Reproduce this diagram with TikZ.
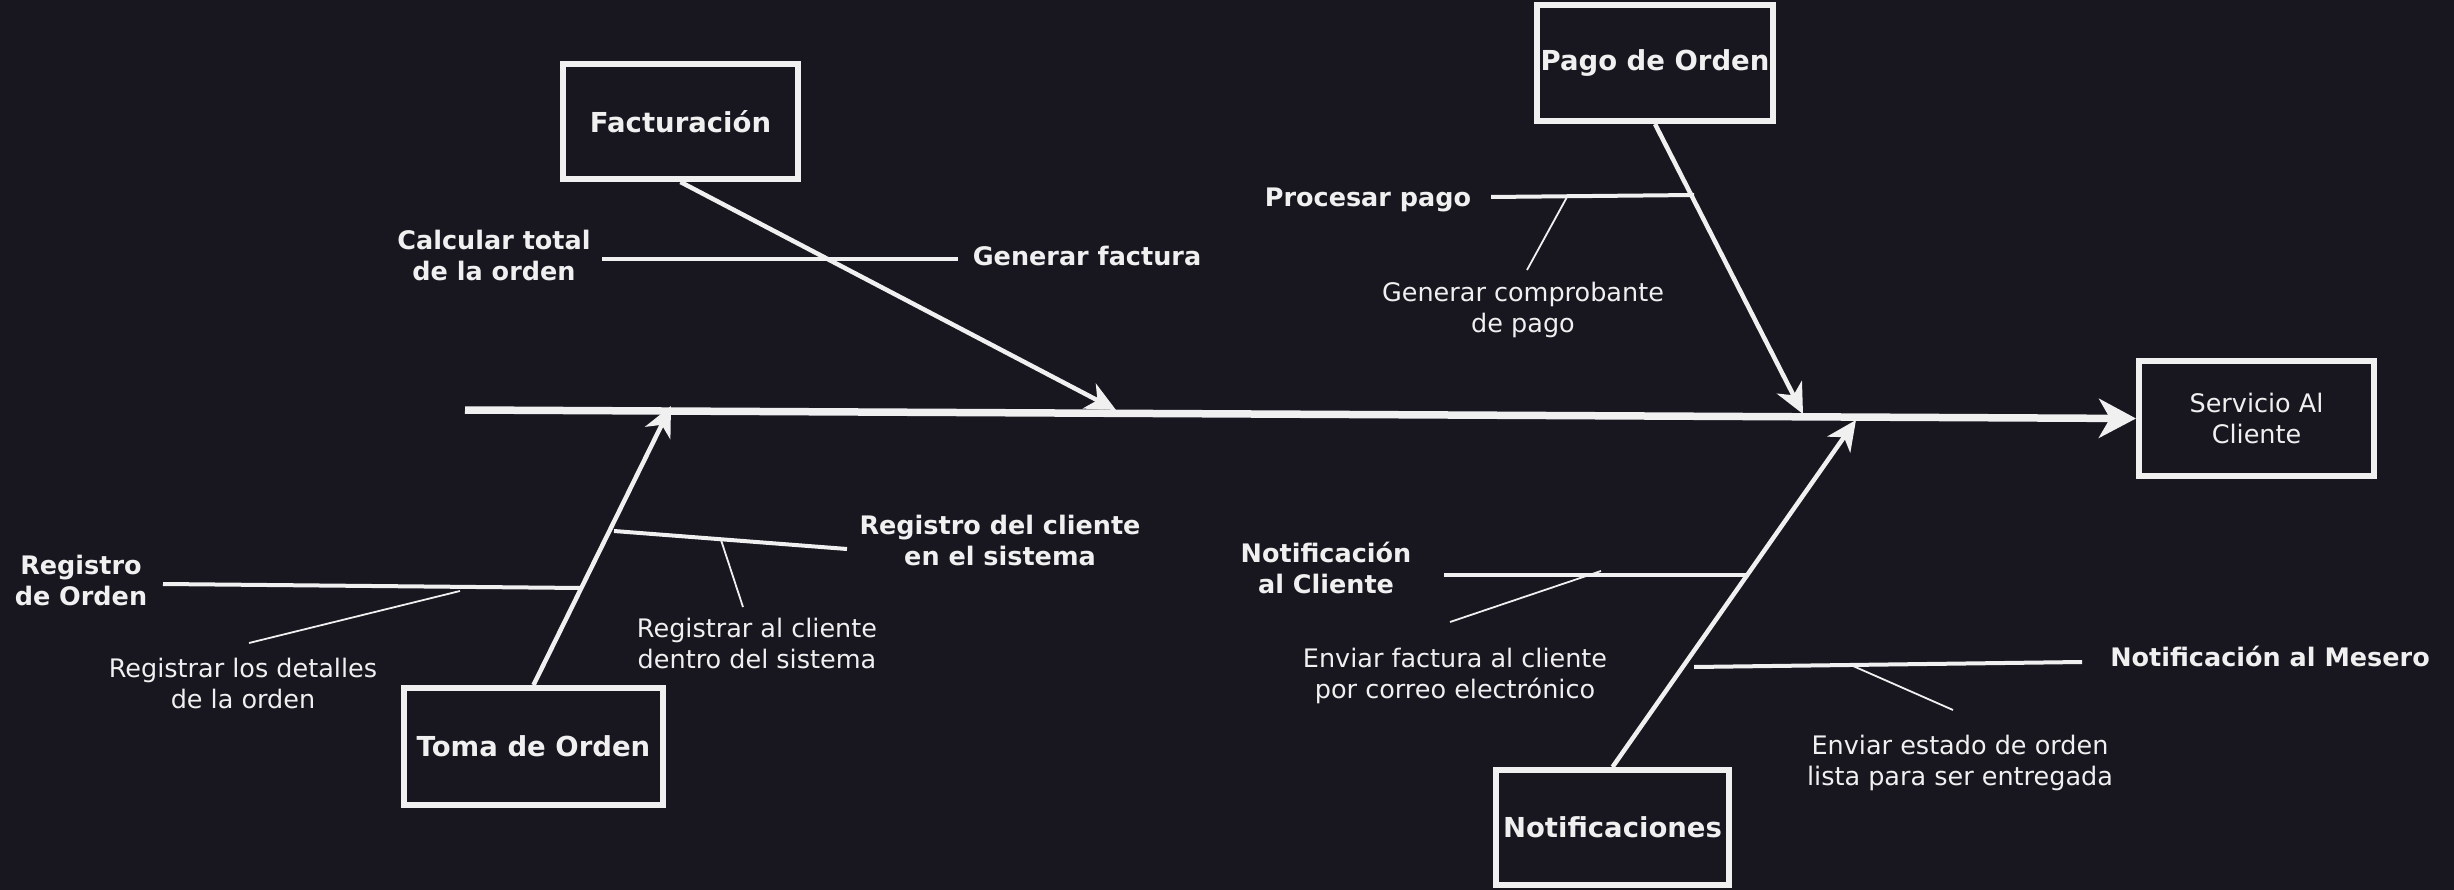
\documentclass[tikz,border=0pt]{standalone}
\usepackage{fontspec}
\setsansfont{DejaVu Sans}
\usetikzlibrary{arrows.meta,positioning}
\tikzset{every picture/.style={/utils/exec={\sffamily}}}
\definecolor{fondo}{HTML}{18161F}
\definecolor{trazo}{HTML}{F0F0F0}

\begin{document}
\begin{tikzpicture}[x=1pt, y=-1pt,
    caja/.style={draw=trazo, line width=6pt, minimum width=235pt, minimum height=115pt, inner sep=0pt, text=trazo, align=center, font=\fontsize{27.5}{33}\selectfont\bfseries},
    causa/.style={text=trazo, align=center, inner sep=0pt, font=\fontsize{25.5}{31}\selectfont\bfseries},
    nota/.style={text=trazo, align=center, inner sep=0pt, font=\fontsize{25.5}{31}\selectfont},
    espina/.style={draw=trazo, line width=7.5pt, -{Stealth[length=37pt, width=39pt, inset=11pt]}},
    hueso/.style={draw=trazo, line width=4.5pt, -{Stealth[length=30pt, width=28pt, inset=9pt]}},
    rama/.style={draw=trazo, line width=4pt},
    hilo/.style={draw=trazo, line width=1.8pt}]

    \useasboundingbox (0,0) rectangle (2454,890);
    \fill[fondo] (0,0) rectangle (2454,890);

    % cajas
    \node[caja] (fact) at (680.5,121.5) {Facturaci\'on};
    \node[caja, minimum width=236pt, minimum height=116pt] (pago) at (1655,63) {Pago de Orden};
    \node[caja, minimum width=259pt, minimum height=117pt] (toma) at (533.5,746.5) {Toma de Orden};
    \node[caja, minimum width=233pt] (notif) at (1612.5,827.5) {Notificaciones};
    \node[caja, font=\fontsize{25.5}{31}\selectfont] (serv) at (2256.5,418.5) {Servicio Al\\Cliente};

    % espina
    \coordinate (cola) at (465,410);
    \draw[espina] (cola) -- (serv.west);

    \coordinate (f0) at (1116,410);
    \coordinate (p0) at (1803,414);
    \coordinate (t0) at (671,406);
    \coordinate (n0) at (1856,420);
    \draw[hueso] (fact.south) -- (f0);
    \draw[hueso] (pago.south) -- (p0);
    \draw[hueso] (toma.north) -- (t0);
    \draw[hueso] (notif.north) -- (n0);

    % Facturacion
    \node[causa] (calc) at (494,255) {Calcular total\\de la orden};
    \node[causa] (genf) at (1087,256) {Generar factura};
    \coordinate (f1) at (602,259);
    \coordinate (f2) at (958,259);
    \draw[rama] (f1) -- (f2);

    % Pago de Orden
    \node[causa] (proc) at (1368,200) {Procesar pago};
    \node[nota] (comp) at (1523,310) {Generar comprobante\\de pago};
    \coordinate (p1) at (1491,197);
    \coordinate (p2) at (1694,195);
    \coordinate (p3) at (1567,197);
    \coordinate (p4) at (1527,270);
    \draw[rama] (p1) -- (p2);
    \draw[hilo] (p3) -- (p4);

    % Toma de Orden
    \node[causa] (rord) at (81,580) {Registro\\de Orden};
    \node[nota] (rdet) at (243,683) {Registrar los detalles\\de la orden};
    \coordinate (t1) at (163,584);
    \coordinate (t2) at (581,588);
    \coordinate (t3) at (460,591);
    \coordinate (t4) at (249,643);
    \draw[rama] (t1) -- (t2);
    \draw[hilo] (t3) -- (t4);

    \node[causa] (rcli) at (1000,540) {Registro del cliente\\en el sistema};
    \node[nota] (rdsi) at (757,643) {Registrar al cliente\\dentro del sistema};
    \coordinate (t5) at (614,531);
    \coordinate (t6) at (847,549);
    \coordinate (t7) at (721,540);
    \coordinate (t8) at (743,607);
    \draw[rama] (t5) -- (t6);
    \draw[hilo] (t7) -- (t8);

    % Notificaciones
    \node[causa] (ncli) at (1326,568) {Notificaci\'on\\al Cliente};
    \node[nota] (envf) at (1455,676) {Enviar factura al cliente\\por correo electr\'onico};
    \coordinate (n1) at (1444,575);
    \coordinate (n2) at (1749,575);
    \coordinate (n3) at (1601,571);
    \coordinate (n4) at (1450,622);
    \draw[rama] (n1) -- (n2);
    \draw[hilo] (n3) -- (n4);

    \node[causa] (nmes) at (2270,656) {Notificaci\'on al Mesero};
    \node[nota] (envo) at (1960,763) {Enviar estado de orden\\lista para ser entregada};
    \coordinate (n5) at (1694,667);
    \coordinate (n6) at (2082,662);
    \coordinate (n7) at (1853,666);
    \coordinate (n8) at (1953,710);
    \draw[rama] (n5) -- (n6);
    \draw[hilo] (n7) -- (n8);
\end{tikzpicture}
\end{document}
